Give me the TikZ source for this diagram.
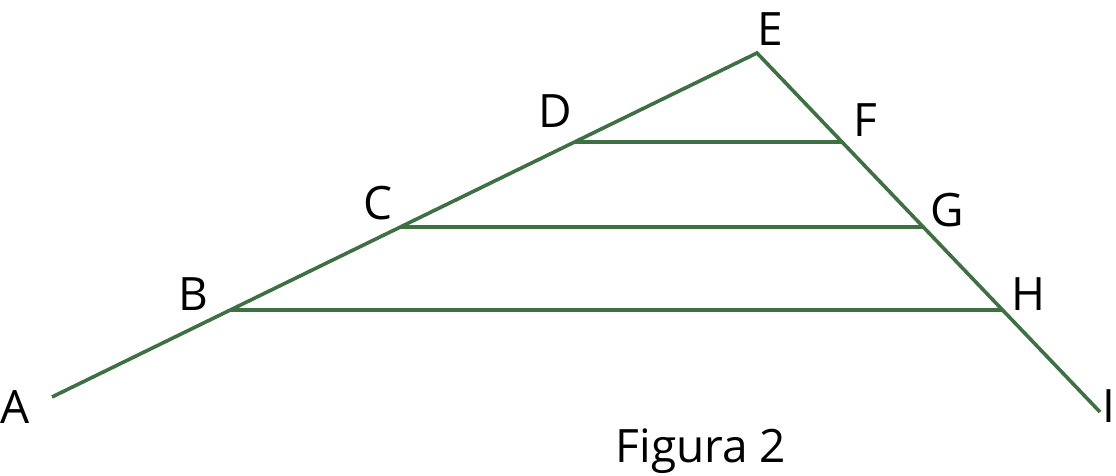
\documentclass[tikz,border=0pt]{standalone}
\usepackage{fontspec}
\setmainfont{Open Sans}
\definecolor{lgreen}{RGB}{62,112,68}
\begin{document}
\begin{tikzpicture}[x=1pt,y=-1pt,
  seg/.style={draw=lgreen,line width=3.6pt},
  lbl/.style={inner sep=0pt,font=\fontsize{46}{46}\selectfont}]
\useasboundingbox (0,0) rectangle (1116,476);
\coordinate (A) at (52,397);
\coordinate (E) at (757,53);
\coordinate (I) at (1100,412);
\coordinate (B) at (231,310);
\coordinate (C) at (400,227);
\coordinate (D) at (575,142);
\coordinate (F) at (842,142);
\coordinate (G) at (923,227);
\coordinate (H) at (1002,310);
\draw[seg,line join=miter] (A) -- (E) -- (I);
\draw[seg] (D) -- (F);
\draw[seg] (C) -- (G);
\draw[seg] (B) -- (H);
\node[lbl] (lA) at (15,407) {A};
\node[lbl] (lB) at (193,294) {B};
\node[lbl] (lC) at (378,203) {C};
\node[lbl] (lD) at (555,111) {D};
\node[lbl] (lE) at (770,29) {E};
\node[lbl] (lF) at (865,120) {F};
\node[lbl] (lG) at (947,210) {G};
\node[lbl] (lH) at (1028,294) {H};
\node[lbl] (lI) at (1109,406) {I};
\node[lbl,anchor=base] (cap) at (701,462) {Figura 2};
\end{tikzpicture}
\end{document}
